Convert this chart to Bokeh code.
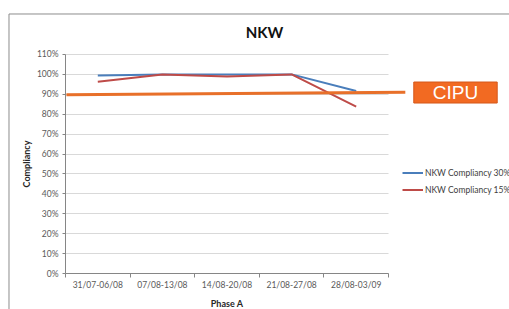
from bokeh.plotting import figure
from bokeh.models import Range1d, FixedTicker, NumeralTickFormatter, Label
from bokeh.embed import file_html
from bokeh.resources import INLINE

# ---- data ----
categories = ["31/07-06/08", "07/08-13/08", "14/08-20/08", "21/08-27/08", "28/08-03/09"]
compliancy_30 = [0.995, 1.0, 1.0, 1.0, 0.917]
compliancy_15 = [0.963, 1.0, 0.99, 1.0, 0.838]
cipu_level = [0.898, 0.91]          # CIPU reference line, left / right end
y_ticks = [0, 0.1, 0.2, 0.3, 0.4, 0.5, 0.6, 0.7, 0.8, 0.9, 1.0, 1.1]
series_names = ["NKW Compliancy 30%", "NKW Compliancy 15%"]
title_text = "NKW"
x_title = "Phase A"
y_title = "Compliancy"
cipu_text = "CIPU"

n = len(categories)
xs = [i + 0.5 for i in range(n)]
y_max = y_ticks[-1]

# frame = whole canvas; axes drawn at fixed locations inside it
p = figure(width=509, height=309, output_backend="svg", toolbar_location=None,
           x_range=Range1d(-1.006, 6.873), y_range=Range1d(-0.1808, 1.3712),
           min_border=0)
p.outline_line_color = None
p.background_fill_color = "white"
p.border_fill_color = "white"

FONT = "Lato"
AXIS_COL = "#868686"
TXT_COL = "#595959"

# x axis: labels at centers, tick marks at boundaries
p.xaxis.fixed_location = 0
p.xaxis.bounds = (0, n)
p.xaxis.ticker = FixedTicker(ticks=xs, minor_ticks=list(range(n + 1)))
p.xaxis.major_label_overrides = {x: c for x, c in zip(xs, categories)}
p.xaxis.major_tick_out = 0
p.xaxis.major_tick_in = 0
p.xaxis.minor_tick_out = 4
p.xaxis.minor_tick_in = 0
p.xaxis.minor_tick_line_color = AXIS_COL
p.xaxis.axis_line_color = AXIS_COL
p.xaxis.major_label_standoff = 2
p.xaxis.major_label_text_font = FONT
p.xaxis.major_label_text_font_size = "8.5px"
p.xaxis.major_label_text_color = TXT_COL
p.xaxis.axis_label = x_title
p.xaxis.axis_label_text_font = FONT
p.xaxis.axis_label_text_font_style = "bold"
p.xaxis.axis_label_text_font_size = "9px"
p.xaxis.axis_label_text_color = "#262626"
p.xaxis.axis_label_standoff = 5
p.xgrid.grid_line_color = None

# y axis
p.yaxis.fixed_location = 0
p.yaxis.bounds = (0, y_max)
p.yaxis.ticker = FixedTicker(ticks=y_ticks, minor_ticks=[])
p.yaxis.formatter = NumeralTickFormatter(format="0%")
p.yaxis.major_tick_out = 3
p.yaxis.major_tick_in = 0
p.yaxis.major_tick_line_color = AXIS_COL
p.yaxis.minor_tick_line_color = None
p.yaxis.axis_line_color = AXIS_COL
p.yaxis.major_label_standoff = 4
p.yaxis.major_label_text_font = FONT
p.yaxis.major_label_text_font_size = "8.5px"
p.yaxis.major_label_text_color = TXT_COL
p.yaxis.axis_label = y_title
p.yaxis.axis_label_text_font = FONT
p.yaxis.axis_label_text_font_style = "bold"
p.yaxis.axis_label_text_font_size = "9px"
p.yaxis.axis_label_text_color = "#262626"
p.yaxis.axis_label_standoff = 2
p.ygrid.grid_line_color = "#D9D9D9"
p.ygrid.bounds = (0, y_max)
p.ygrid.cross_bounds = (0, n)

# chart frame (left and top edges)
p.line([-0.8746, -0.8746, 6.9], [-0.3, 1.3034, 1.3034], line_color="#8C8C8C", line_width=1)

# series
p.line(xs, compliancy_30, line_color="#4A7EBB", line_width=2, legend_label=series_names[0])
p.line(xs, compliancy_15, line_color="#BE4B48", line_width=2, legend_label=series_names[1])

# CIPU reference line
p.line([0.015, 5.26], cipu_level, line_color="#E8702A", line_width=3)

leg = p.legend[0]
leg.location = (402, 112)
leg.padding = 0
leg.margin = 0
leg.spacing = 2
leg.glyph_width = 21
leg.glyph_height = 15
leg.label_height = 15
leg.label_standoff = 2
leg.border_line_color = None
leg.background_fill_alpha = 0
leg.label_text_font = FONT
leg.label_text_font_size = "8.5px"
leg.label_text_color = "#404040"

# CIPU badge
p.add_layout(Label(x=6.037, y=0.909, text=cipu_text, text_align="center",
                   text_baseline="middle", text_font="Liberation Sans",
                   text_font_size="19px", text_color="white",
                   background_fill_color="#F26A22", border_line_color="#D4571A",
                   border_line_width=1, padding=(19, 0)))

# title
p.add_layout(Label(x=3.08, y=1.2105, text=title_text, text_align="center",
                   text_baseline="middle", text_font=FONT, text_font_style="bold",
                   text_font_size="15px", text_color="#111111"))

open("out.html", "w").write(file_html(p, INLINE))
